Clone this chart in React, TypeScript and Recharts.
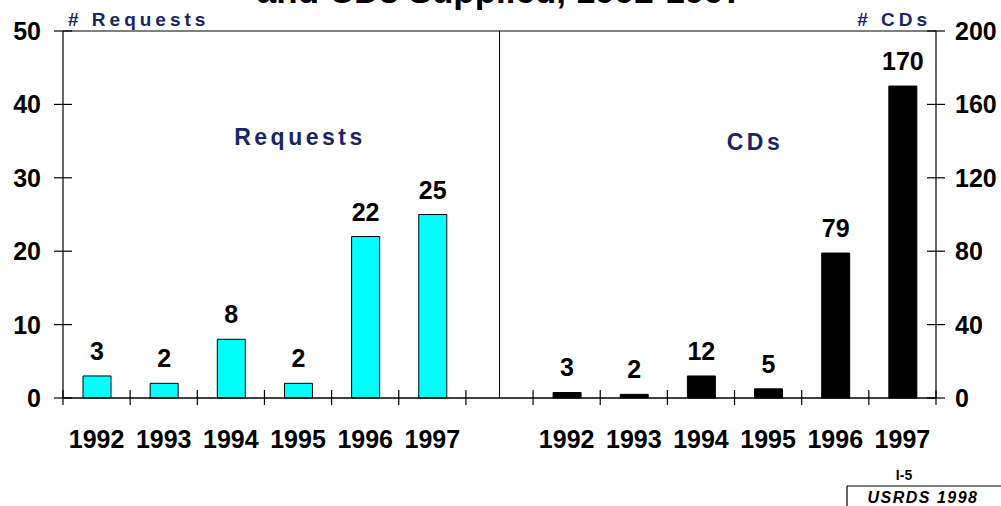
import React from 'react';
import { BarChart, Bar, XAxis, YAxis, ReferenceLine, LabelList } from 'recharts';

const years = ['1992', '1993', '1994', '1995', '1996', '1997'];
const requests = [3, 2, 8, 2, 22, 25];
const cds = [3, 2, 12, 5, 79, 170];
const leftTicks = [0, 10, 20, 30, 40, 50];
const rightTicks = [0, 40, 80, 120, 160, 200];

const data = [
  ...years.map((y, i) => ({ slot: `r${y}`, year: y, req: requests[i], cd: null as number | null })),
  { slot: 'gap', year: '', req: null as number | null, cd: null as number | null },
  ...years.map((y, i) => ({ slot: `c${y}`, year: y, req: null as number | null, cd: cds[i] })),
];

const FONT = '"Liberation Sans", Arial, Helvetica, sans-serif';
const NAVY = '#1B2466';
const W = 1001;
const H = 506;
const HALF_BAND = (936 - 63) / data.length / 2;

const XTick = (props: any) => {
  const { x, y, payload } = props;
  const idx = payload?.index ?? props.index ?? 0;
  const half = payload?.offset || HALF_BAND;
  const row = data[idx];
  const last = idx === data.length - 1;
  return (
    <g>
      <line x1={x - half} x2={x - half} y1={y - 8} y2={y + 7} stroke="#000" strokeWidth={1.2} />
      {last && <line x1={x + half} x2={x + half} y1={y - 8} y2={y + 7} stroke="#000" strokeWidth={1.2} />}
      <text x={x} y={y + 50} textAnchor="middle" fontFamily={FONT} fontWeight="bold" fontSize={25} fill="#000">
        {row ? row.year : ''}
      </text>
    </g>
  );
};

const LeftTick = (props: any) => {
  const { x, y, payload } = props;
  return (
    <g>
      <line x1={x - 9} x2={x + 9} y1={y} y2={y} stroke="#000" strokeWidth={1.2} />
      <text x={x - 22} y={y + 9} textAnchor="end" fontFamily={FONT} fontWeight="bold" fontSize={25} fill="#000">
        {payload.value}
      </text>
    </g>
  );
};

const RightTick = (props: any) => {
  const { x, y, payload } = props;
  return (
    <g>
      <line x1={x - 9} x2={x + 9} y1={y} y2={y} stroke="#000" strokeWidth={1.2} />
      <text x={x + 19} y={y + 9} textAnchor="start" fontFamily={FONT} fontWeight="bold" fontSize={25} fill="#000">
        {payload.value}
      </text>
    </g>
  );
};

const labelStyle = { fontFamily: FONT, fontWeight: 'bold', fontSize: 25, fill: '#000' } as any;

export default function App() {
  return (
    <div style={{ position: 'relative', width: W, height: H, background: '#fff', overflow: 'hidden' }}>
      <style>{'body{margin:0;background:#fff;}'}</style>
      <BarChart
        width={W}
        height={H}
        data={data}
        margin={{ top: 31, right: 0, left: 0, bottom: 48 }}
        barCategoryGap={0}
      >
        <XAxis
          dataKey="slot"
          height={60}
          axisLine={{ stroke: '#000', strokeWidth: 1.5 }}
          tickLine={false}
          tickSize={0}
          tickMargin={0}
          interval={0}
          tick={<XTick />}
        />
        <YAxis
          yAxisId="left"
          orientation="left"
          domain={[0, 50]}
          ticks={leftTicks}
          width={63}
          axisLine={{ stroke: '#000', strokeWidth: 1.2 }}
          tickLine={false}
          tickSize={0}
          tickMargin={0}
          interval={0}
          tick={<LeftTick />}
        />
        <YAxis
          yAxisId="right"
          orientation="right"
          domain={[0, 200]}
          ticks={rightTicks}
          width={65}
          axisLine={{ stroke: '#000', strokeWidth: 1.2 }}
          tickLine={false}
          tickSize={0}
          tickMargin={0}
          interval={0}
          tick={<RightTick />}
        />
        <ReferenceLine yAxisId="left" y={50} stroke="#000" strokeWidth={1.2} />
        <ReferenceLine yAxisId="left" x="gap" stroke="#000" strokeWidth={1} />
        <Bar
          yAxisId="left"
          dataKey="req"
          stackId="s"
          fill="#00FFFF"
          stroke="#000"
          strokeWidth={1}
          barSize={28}
          isAnimationActive={false}
        >
          <LabelList dataKey="req" position="top" offset={16} style={labelStyle} />
        </Bar>
        <Bar
          yAxisId="right"
          dataKey="cd"
          stackId="s"
          fill="#000"
          stroke="#000"
          strokeWidth={1}
          barSize={28}
          isAnimationActive={false}
        >
          <LabelList dataKey="cd" position="top" offset={16} style={labelStyle} />
        </Bar>
      </BarChart>
      <svg width={W} height={H} style={{ position: 'absolute', left: 0, top: 0, pointerEvents: 'none' }}>
        <text x={500} y={3} textAnchor="middle" fontFamily={FONT} fontWeight="bold" fontSize={35} fill="#000">
          <tspan x={500} y={-39}>Data Requests</tspan>
          <tspan x={500} y={3}>and CDs Supplied, 1992-1997</tspan>
        </text>
        <text x={68} y={26} fontFamily={FONT} fontWeight="bold" fontSize={19} letterSpacing={4} fill={NAVY}>
          # Requests
        </text>
        <text x={931} y={26} textAnchor="end" fontFamily={FONT} fontWeight="bold" fontSize={19} letterSpacing={4} fill={NAVY}>
          # CDs
        </text>
        <text x={300} y={145} textAnchor="middle" fontFamily={FONT} fontWeight="bold" fontSize={23} letterSpacing={3.5} fill={NAVY}>
          Requests
        </text>
        <text x={755} y={150} textAnchor="middle" fontFamily={FONT} fontWeight="bold" fontSize={23} letterSpacing={3.5} fill={NAVY}>
          CDs
        </text>
        <text x={904} y={480} textAnchor="middle" fontFamily={FONT} fontWeight="bold" fontSize={14} fill="#000">
          I-5
        </text>
        <line x1={847} x2={W} y1={486} y2={486} stroke="#000" strokeWidth={1.2} />
        <line x1={847} x2={847} y1={486} y2={H} stroke="#000" strokeWidth={1.2} />
        <text x={923} y={503} textAnchor="middle" fontFamily={FONT} fontWeight="bold" fontStyle="italic" fontSize={16} letterSpacing={1.5} fill="#000">
          USRDS 1998
        </text>
      </svg>
    </div>
  );
}
